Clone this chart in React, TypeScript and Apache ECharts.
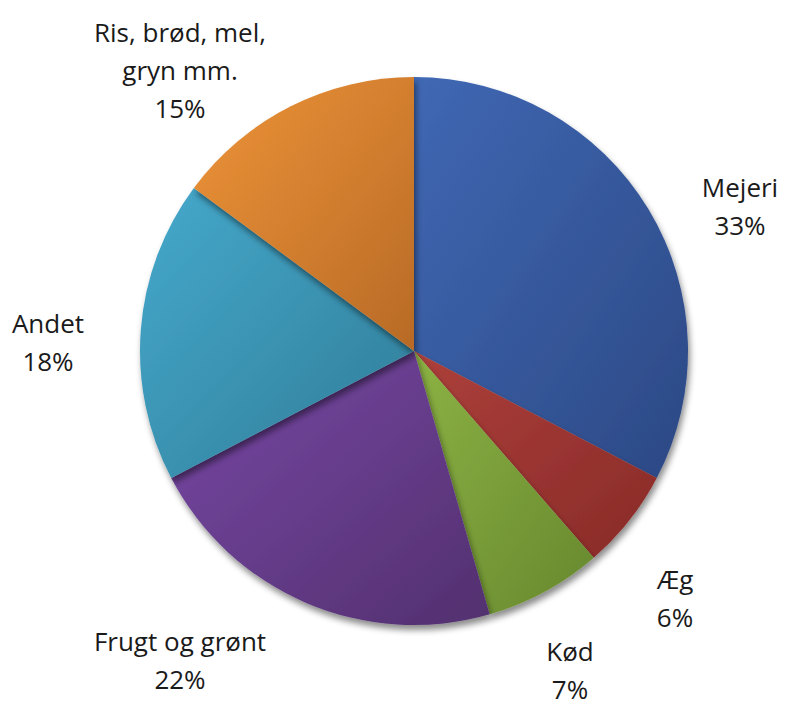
import React, { useEffect, useRef } from "react";
import * as echarts from "echarts";

const categories = ["Mejeri", "Æg", "Kød", "Frugt og grønt", "Andet", "Ris, brød, mel,\ngryn mm."];
const values = [33, 6, 7, 22, 18, 15];
const colorsLight = ["#4068b4", "#ad403b", "#8cb244", "#7848a6", "#46a9cc", "#ee9438"];
const colorsDark = ["#2c4884", "#882a28", "#67882e", "#52306e", "#2f7c97", "#b86a26"];

// label anchor layout (pixel centres of each label block)
const labelAnchors: [number, number][] = [
  [732, 198],
  [667, 590],
  [562, 662],
  [172, 652],
  [40, 334],
  [172, 62],
];

export default function App() {
  const ref = useRef<HTMLDivElement>(null);
  useEffect(() => {
    if (!ref.current) return;
    const chart = echarts.init(ref.current, undefined, { renderer: "svg" });
    chart.setOption({
      animation: false,
      backgroundColor: "#ffffff",
      series: [
        {
          type: "pie",
          center: [406, 343],
          radius: [0, 274],
          startAngle: 90,
          clockwise: true,
          data: categories.map((name, i) => ({
            name,
            value: values[i],
            itemStyle: {
              color: new echarts.graphic.LinearGradient(0, 0, 1, 1, [
                { offset: 0, color: colorsLight[i] },
                { offset: 1, color: colorsDark[i] },
              ]),
            },
          })),
          itemStyle: {
            borderWidth: 0,
            shadowColor: "rgba(0,0,0,0.45)",
            shadowBlur: 6,
            shadowOffsetX: 2,
            shadowOffsetY: 5,
          },
          label: {
            show: true,
            position: "outside",
            formatter: (p: any) => `${p.name}\n${Math.round(p.percent)}%`,
            fontFamily: "Open Sans",
            fontSize: 26,
            lineHeight: 38,
            color: "#1a1a1a",
            align: "center",
            overflow: "none",
          },
          labelLine: { show: false },
          labelLayout: (p: any) => {
            const a = labelAnchors[p.dataIndex];
            return {
              x: a[0],
              y: a[1],
              align: "center",
              verticalAlign: "middle",
            };
          },
          emphasis: { disabled: true },
        },
      ],
    });
    return () => chart.dispose();
  }, []);
  return <div ref={ref} style={{ width: 773, height: 702 }} />;
}
